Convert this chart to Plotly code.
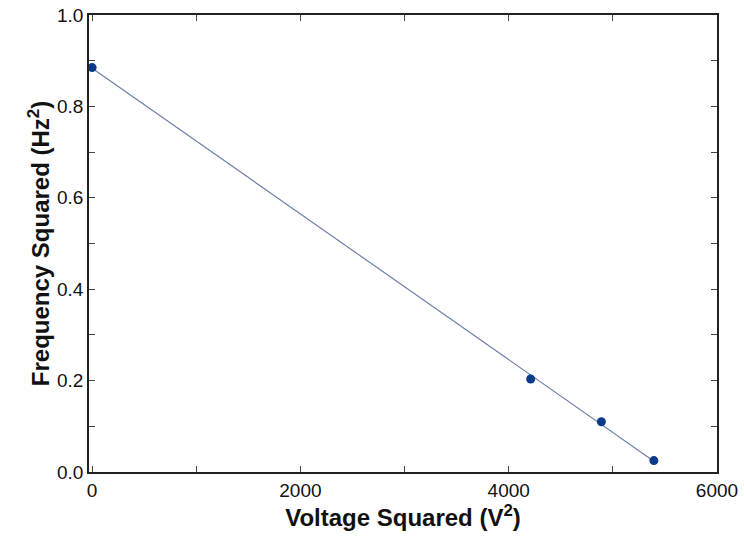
import numpy as np
import plotly.graph_objects as go

voltage_sq = [0, 4211, 4890, 5394]
freq_sq = [0.885, 0.2035, 0.110, 0.025]

slope, intercept = np.polyfit(voltage_sq, freq_sq, 1)
fit_x = [min(voltage_sq), max(voltage_sq)]
fit_y = [slope * v + intercept for v in fit_x]

fig = go.Figure()
fig.add_trace(go.Scatter(x=fit_x, y=fit_y, mode="lines",
                         line=dict(color="#6f7fa8", width=1.2), showlegend=False))
fig.add_trace(go.Scatter(x=voltage_sq, y=freq_sq, mode="markers",
                         marker=dict(color="#0a3a8a", size=9), showlegend=False))

FONT = "Liberation Sans, Arial, sans-serif"
axis_common = dict(showgrid=False, zeroline=False, showline=True, linecolor="#222",
                   linewidth=1.5, mirror="ticks", ticks="inside", ticklen=6,
                   tickcolor="#444", automargin=False,
                   tickfont=dict(family=FONT, size=19, color="#111"))

fig.update_xaxes(range=[-30, 6000], tick0=0, dtick=2000,
                 minor=dict(dtick=1000, ticks="inside", ticklen=6, tickcolor="#444"),
                 title=dict(text="Voltage Squared (V<sup>2</sup>)", standoff=8,
                            font=dict(family=FONT, size=24, color="#111", weight="bold")),
                 **axis_common)
fig.update_yaxes(range=[0, 1.0], tick0=0, dtick=0.2, tickformat=".1f",
                 minor=dict(dtick=0.1, ticks="inside", ticklen=6, tickcolor="#444"),
                 title=dict(text="Frequency Squared (Hz<sup>2</sup>)", standoff=1,
                            font=dict(family=FONT, size=24, color="#111", weight="bold")),
                 **axis_common)

fig.update_layout(width=744, height=539, margin=dict(l=89, r=27, t=15, b=67),
                  plot_bgcolor="white", paper_bgcolor="white")
# remove the default 8px page margin so the figure fills the window exactly
fig.write_html("out.html", config={"displayModeBar": False},
               post_script="document.body.style.margin='0';")
